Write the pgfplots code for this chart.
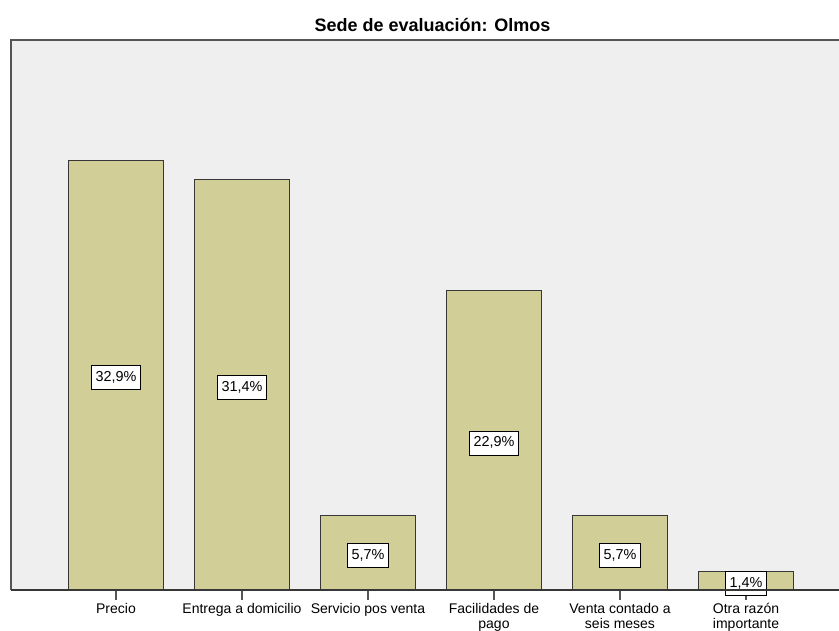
\documentclass[border=0pt]{standalone}
\usepackage{pgfplots}
\pgfplotsset{compat=1.18}
\usepackage{fontspec}
\setmainfont{Liberation Sans}
\definecolor{bgc}{RGB}{239,239,239}
\definecolor{barc}{RGB}{210,206,152}
\definecolor{bard}{RGB}{55,55,55}
\definecolor{framec}{RGB}{85,85,85}
\begin{document}
\begin{tikzpicture}
\begin{axis}[
  scale only axis,
  width=621pt, height=412.5pt,
  xmin=-0.833, xmax=5.738,
  ymin=0, ymax=42.1,
  ytick=\empty,
  xtick={0,1,2,3,4,5},
  xticklabels={Precio, Entrega a domicilio, Servicio pos venta, {Facilidades de\\pago}, {Venta contado a\\seis meses}, {Otra razón\\importante}},
  xticklabel style={align=center, font=\fontsize{10.5pt}{11.25pt}\selectfont, inner sep=0pt, yshift=-2pt},
  xtick pos=bottom,
  tick align=outside,
  major tick length=7.5pt,
  x tick style={draw=framec, line width=0.9pt},
  axis line style={draw=none},
  axis background/.style={fill=bgc},
  title={\bfseries Sede de evaluación: Olmos},
  every axis title shift=0pt,
  title style={at={(0.509,1)}, anchor=base, yshift=6.5pt, font=\fontsize{13.5pt}{15pt}\selectfont},
  ybar,
  bar width=0.754,
  visualization depends on={rawy \as \rawy},
  nodes near coords={\pgfmathprintnumber[fixed,fixed zerofill,precision=1,use comma,assume math mode=true]{\pgfplotspointmeta}\%},
  nodes near coords style={anchor=center, shift={(axis direction cs:0,-\rawy/2)}, yshift=-2pt, fill=white, draw=black, line width=0.6pt, font=\fontsize{10.8pt}{12pt}\selectfont, text height=7.8pt, text depth=2pt, inner xsep=3pt, inner ysep=4pt},
  after end axis/.code={
    \draw[framec, line width=1.1pt] (rel axis cs:0,0) -- (rel axis cs:0,1) -- (rel axis cs:1,1);
    \draw[bard, line width=1.1pt] (rel axis cs:0,0) -- (rel axis cs:1,0);
    \coordinate (bl) at (rel axis cs:0,0);
    \coordinate (tr) at (rel axis cs:1,1);
  },
]
\addplot[fill=barc, draw=bard, line width=1pt] coordinates {(0,32.9) (1,31.4) (2,5.7) (3,22.9) (4,5.7) (5,1.4)};
\end{axis}
\pgfresetboundingbox
\path ([shift={(-8.25pt,-30.75pt)}]bl) rectangle ([shift={(0pt,30pt)}]tr);
\end{tikzpicture}
\end{document}
